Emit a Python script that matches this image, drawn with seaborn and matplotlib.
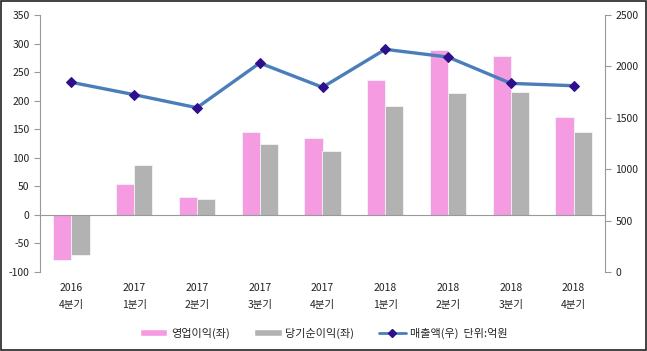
import numpy as np
import pandas as pd
import matplotlib
matplotlib.use("Agg")
import matplotlib.pyplot as plt
import seaborn as sns
from matplotlib.lines import Line2D
from matplotlib.patches import Patch

years = ["2016", "2017", "2017", "2017", "2017", "2018", "2018", "2018", "2018"]
quarters = ["4분기", "1분기", "2분기", "3분기", "4분기", "1분기", "2분기", "3분기", "4분기"]
op_profit = [-79, 54, 32, 146, 135, 236, 289, 279, 171]
net_profit = [-71, 87, 27, 124, 111, 191, 213, 215, 146]
sales = [1845, 1725, 1598, 2033, 1797, 2166, 2091, 1835, 1812]

labels = [f"{y}\n{q}" for y, q in zip(years, quarters)]
PINK = "#f59be1"
GRAY = "#b2b2b2"
LINE = "#4a7ebb"
MARK = "#2e0f8c"

sns.set_style("white")
plt.rcParams["font.family"] = ["Noto Sans CJK KR", "DejaVu Sans"]
plt.rcParams["axes.unicode_minus"] = False

df = pd.DataFrame({
    "cat": labels * 2,
    "value": op_profit + net_profit,
    "kind": ["영업이익(좌)"] * 9 + ["당기순이익(좌)"] * 9,
})

fig = plt.figure(figsize=(6.47, 3.51), dpi=100)
ax = fig.add_axes([40 / 647, 1 - 272 / 351, 565 / 647, 257 / 351])

sns.barplot(data=df, x="cat", y="value", hue="kind", palette=[PINK, GRAY],
            width=0.58, ax=ax, legend=False, saturation=1,
            edgecolor="#f4f4f4", linewidth=0.6)
ax.set_ylim(-100, 350)
ax.set_xlim(-0.5, 8.5)
ax.set_yticks(np.arange(-100, 351, 50))
ax.set_xlabel("")
ax.set_ylabel("")

ax.spines["bottom"].set_position(("data", 0))
ax.spines["top"].set_visible(False)
ax.spines["right"].set_visible(False)
for s in ["left", "bottom"]:
    ax.spines[s].set_color("#999999")
    ax.spines[s].set_linewidth(0.8)
ax.set_xticks(range(9))
ax.set_xticklabels(labels, fontsize=7.5, color="#222222", linespacing=1.9)
ax.set_xticks(np.arange(0.5, 8.5, 1), minor=True)
ax.tick_params(axis="x", which="major", length=0, pad=49)
ax.tick_params(axis="x", which="minor", length=4, color="#999999", direction="out")
ax.tick_params(axis="y", length=4, color="#999999", direction="out", labelsize=7.5,
               labelcolor="#222222", left=True)

ax2 = ax.twinx()
sns.lineplot(x=range(9), y=sales, ax=ax2, color=LINE, lw=2.4,
             marker="D", markersize=5.5, markerfacecolor=MARK, markeredgecolor=MARK)
ax2.set_ylim(0, 2500)
ax2.set_yticks(np.arange(0, 2501, 500))
for s in ["top", "left", "bottom"]:
    ax2.spines[s].set_visible(False)
ax2.spines["right"].set_color("#999999")
ax2.spines["right"].set_linewidth(0.8)
ax2.tick_params(axis="y", length=4, color="#999999", direction="out", labelsize=7.5,
                labelcolor="#222222", right=True)

handles = [
    Patch(facecolor=PINK, label="영업이익(좌)"),
    Patch(facecolor=GRAY, label="당기순이익(좌)"),
    Line2D([], [], color=LINE, lw=2, marker="D", markersize=4,
           markerfacecolor=MARK, markeredgecolor=MARK, label="매출액(우)  단위:억원"),
]
fig.legend(handles=handles, loc="center", bbox_to_anchor=(0.5, 1 - 333 / 351), ncol=3,
           frameon=False, fontsize=8, handlelength=2.5, handleheight=0.6,
           columnspacing=2.2, handletextpad=0.3)

fig.patches.append(plt.Rectangle((0.002, 0.003), 0.996, 0.994, transform=fig.transFigure,
                                 fill=False, edgecolor="#222222", lw=1.2))

fig.savefig("out.png", dpi=100)
